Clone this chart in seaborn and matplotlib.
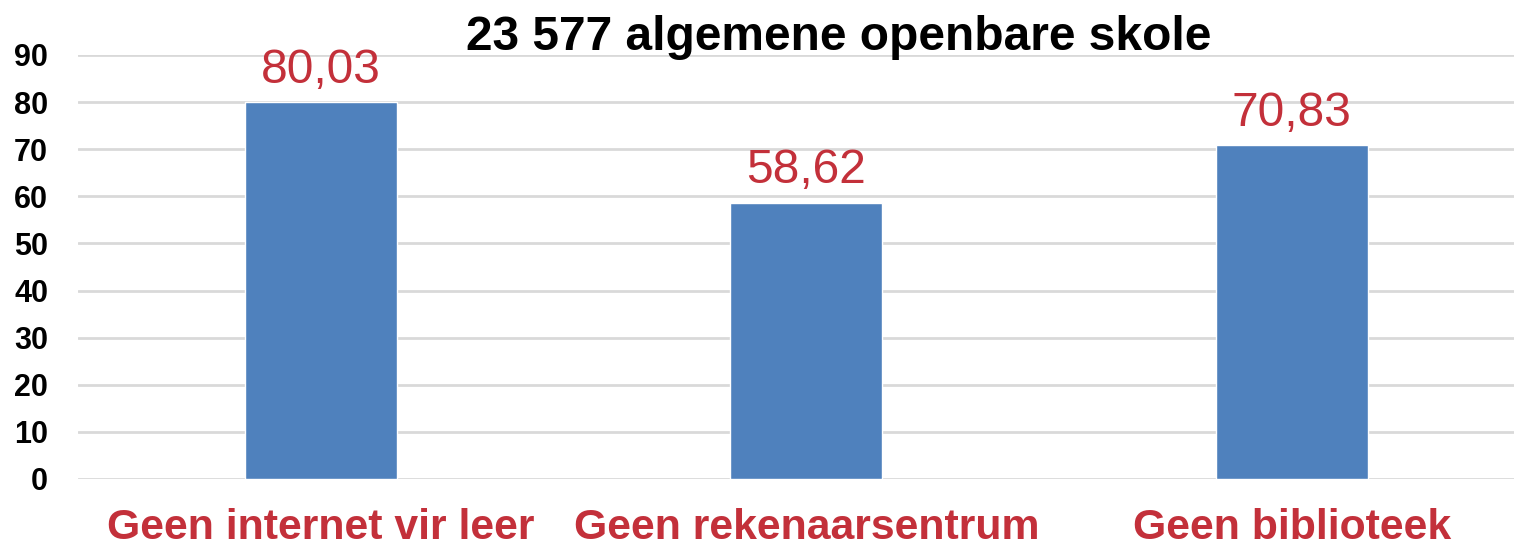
import matplotlib
matplotlib.use("Agg")
import matplotlib.pyplot as plt
import seaborn as sns
import pandas as pd

categories = ["Geen internet vir leer", "Geen rekenaarsentrum", "Geen biblioteek"]
values = [80.03, 58.62, 70.83]
value_labels = ["80,03", "58,62", "70,83"]
yticks = [0, 10, 20, 30, 40, 50, 60, 70, 80, 90]
title = "23 577 algemene openbare skole"

sns.set_theme(style="white")
plt.rcParams['font.family'] = ['Liberation Sans', 'DejaVu Sans']

red = "#C3303A"
blue = "#4F81BD"

df = pd.DataFrame({"cat": categories, "val": values})

fig = plt.figure(figsize=(15.14, 5.46), dpi=100)
ax = fig.add_axes([78/1514, 1 - 479/546, 1 - 78/1514, (479 - 55)/546])

sns.barplot(data=df, x="cat", y="val", color=blue, width=0.313, saturation=1, ax=ax, zorder=3)

ax.set_ylim(0, 90)
ax.set_xlim(-0.5, (1514 - 78) / 485.5 - 0.5)
ax.set_yticks(yticks)
ax.set_yticklabels([str(t) for t in yticks], fontsize=22, fontweight="bold", color="black")
ax.yaxis.grid(True, color="#D9D9D9", linewidth=2, zorder=0)
ax.set_axisbelow(True)
for s in ax.spines.values():
    s.set_visible(False)
ax.tick_params(axis="y", length=0, pad=21.5)
ax.tick_params(axis="x", length=0, pad=21)
ax.set_xticks(range(len(categories)))
ax.set_xticklabels(categories, fontsize=30.8, fontweight="bold", color=red)
ax.set_xlabel("")
ax.set_ylabel("")

for i, (v, lab) in enumerate(zip(values, value_labels)):
    ax.annotate(lab, (i, v), xytext=(0, 14), textcoords="offset points",
                ha="center", va="baseline", fontsize=34.5, color=red, annotation_clip=False)

fig.text(839/1514, 1 - 37/546, title, ha="center", va="center", fontsize=34.5, fontweight="bold", color="black")

fig.savefig("out.png", dpi=100)
